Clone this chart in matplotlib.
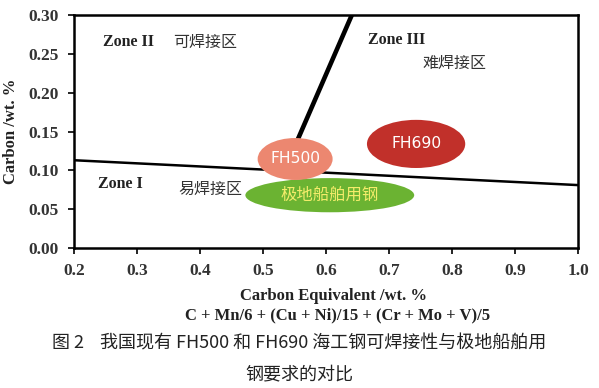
import matplotlib
matplotlib.use("Agg")
import matplotlib.pyplot as plt
from matplotlib.patches import Ellipse

# Data
x_ticks = [0.2, 0.3, 0.4, 0.5, 0.6, 0.7, 0.8, 0.9, 1.0]
y_ticks = [0.00, 0.05, 0.10, 0.15, 0.20, 0.25, 0.30]
line1_x = [0.2, 1.0]
line1_y = [0.113, 0.081]
line2_x = [0.535, 0.641]
line2_y = [0.102, 0.30]
ell_names = ["极地船舶用钢", "FH500", "FH690"]
ell_cx = [0.606, 0.551, 0.743]
ell_cy = [0.068, 0.1146, 0.134]
ell_w = [0.268, 0.119, 0.156]
ell_h = [0.044, 0.054, 0.062]
ell_colors = ["#6BB332", "#EC8770", "#C1302A"]
ell_text_colors = ["#F4EC6A", "white", "white"]

serif = ["Liberation Serif", "DejaVu Serif"]
cjk = ["Noto Sans CJK SC", "DejaVu Sans"]

fig = plt.figure(figsize=(5.99, 3.88), dpi=100)
ax = fig.add_axes([74/599, 1-248/388, (578-74)/599, (248-15)/388])
ax.set_xlim(0.2, 1.0)
ax.set_ylim(0.0, 0.30)

ax.plot(line1_x, line1_y, color="black", lw=1.8, zorder=2)
ax.plot(line2_x, line2_y, color="black", lw=3.3, zorder=2)

for name, cx, cy, w, h, c, tc in zip(ell_names, ell_cx, ell_cy, ell_w, ell_h, ell_colors, ell_text_colors):
    ax.add_patch(Ellipse((cx, cy), w, h, facecolor=c, edgecolor="none", zorder=3))
    if name == "极地船舶用钢":
        ax.text(cx, cy, name, ha="center", va="center", color=tc, fontsize=11.8,
                family=cjk, zorder=4)
    else:
        ax.text(cx, cy, name, ha="center", va="center", color=tc, fontsize=11.2,
                family=["DejaVu Sans"], zorder=4)

ax.text(0.246, 0.265, "Zone II", family=serif, fontweight="bold", fontsize=11.5, va="center", color="#222222")
ax.text(0.358, 0.265, "可焊接区", family=cjk, fontsize=11.5, va="center", color="#333333")
ax.text(0.666, 0.268, "Zone III", family=serif, fontweight="bold", fontsize=11.5, va="center", color="#222222")
ax.text(0.753, 0.237, "难焊接区", family=cjk, fontsize=11.5, va="center", color="#333333")
ax.text(0.238, 0.083, "Zone I", family=serif, fontweight="bold", fontsize=11.5, va="center", color="#222222")
ax.text(0.366, 0.075, "易焊接区", family=cjk, fontsize=11.5, va="center", color="#333333")

ax.set_xticks(x_ticks)
ax.set_xticklabels([f"{v:.1f}" for v in x_ticks])
ax.set_yticks(y_ticks)
ax.set_yticklabels([f"{v:.2f}" for v in y_ticks])
for lab in ax.get_xticklabels() + ax.get_yticklabels():
    lab.set_family(serif)
    lab.set_fontweight("bold")
    lab.set_fontsize(12.5)
    lab.set_color("#333333")
ax.tick_params(direction="out", length=4, width=1.2, pad=7)
for s in ax.spines.values():
    s.set_linewidth(1.8)

ax.set_ylabel("Carbon /wt. %", family=serif, fontweight="bold", fontsize=12, labelpad=7,
              color="#222222")
fig.text(334/599, 1-296/388, "Carbon Equivalent /wt. %", ha="center", va="center",
         family=serif, fontweight="bold", fontsize=12, color="#222222")
fig.text(338/599, 1-315/388, "C + Mn/6 + (Cu + Ni)/15 + (Cr + Mo + V)/5", ha="center", va="center",
         family=serif, fontweight="bold", fontsize=12, color="#222222")
fig.text(0.5, 1-343/388, "图 2    我国现有 FH500 和 FH690 海工钢可焊接性与极地船舶用",
         ha="center", va="center", family=cjk, fontsize=13, color="#222222")
fig.text(0.5, 1-374/388, "钢要求的对比", ha="center", va="center", family=cjk, fontsize=13,
         color="#222222")

fig.savefig("out.png", dpi=100)
